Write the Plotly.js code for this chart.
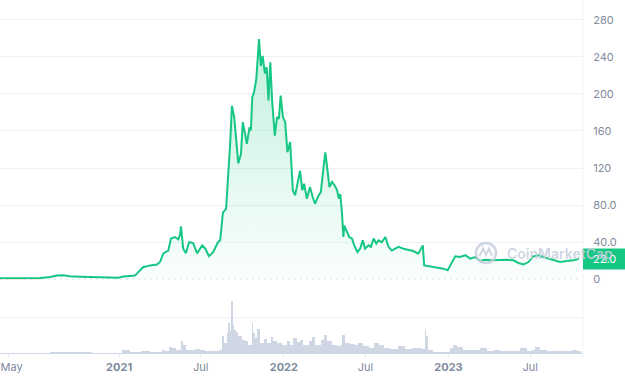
<!DOCTYPE html>
<html><head><meta charset="utf-8">
<script src="https://cdn.plot.ly/plotly-3.0.1.min.js"></script>
<style>html,body{margin:0;padding:0;background:#fff;}#chart{width:625px;height:380px;}</style>
</head><body><div id="chart"></div>
<script>
// ---- data ----
const priceDates = ['2020-04-12','2020-05-27','2020-07-10','2020-08-01','2020-08-17','2020-08-30','2020-09-14','2020-10-07','2020-11-09','2020-12-12','2020-12-30',
'2021-01-10','2021-01-25','2021-02-05','2021-02-14','2021-02-23','2021-03-11','2021-03-26','2021-04-02','2021-04-09','2021-04-20','2021-04-26','2021-05-05','2021-05-12','2021-05-16','2021-05-18','2021-05-23','2021-05-29','2021-06-05','2021-06-14','2021-06-23','2021-07-04','2021-07-11','2021-07-19','2021-07-28','2021-08-04','2021-08-08','2021-08-13','2021-08-19','2021-08-26','2021-08-31','2021-09-04','2021-09-08','2021-09-13','2021-09-17','2021-09-22','2021-09-28','2021-10-02','2021-10-07','2021-10-11','2021-10-17','2021-10-20','2021-10-23','2021-10-27','2021-11-01','2021-11-07','2021-11-11','2021-11-15','2021-11-20','2021-11-24','2021-11-28','2021-12-02','2021-12-06','2021-12-12','2021-12-17','2021-12-21','2021-12-25','2021-12-30',
'2022-01-04','2022-01-09','2022-01-15','2022-01-21','2022-01-26','2022-01-31','2022-02-06','2022-02-11','2022-02-15','2022-02-21','2022-02-28','2022-03-06','2022-03-11','2022-03-19','2022-03-24','2022-03-30','2022-04-03','2022-04-08','2022-04-12','2022-04-18','2022-04-24','2022-04-29','2022-05-03','2022-05-06','2022-05-10','2022-05-13','2022-05-15','2022-05-21','2022-05-26','2022-06-01','2022-06-06','2022-06-13','2022-06-19','2022-06-25','2022-06-30','2022-07-08','2022-07-13','2022-07-19','2022-07-25','2022-07-30','2022-08-06','2022-08-14','2022-08-21','2022-08-28','2022-09-05','2022-09-12','2022-09-23','2022-10-04','2022-10-15','2022-10-26','2022-11-05','2022-11-08','2022-11-21','2022-12-06','2022-12-21','2022-12-30',
'2023-01-08','2023-01-16','2023-01-27','2023-02-07','2023-02-18','2023-03-01','2023-03-12','2023-03-23','2023-04-07','2023-04-25','2023-05-10','2023-05-25','2023-06-05','2023-06-16','2023-06-27','2023-07-08','2023-07-19','2023-07-30','2023-08-10','2023-08-22','2023-09-05','2023-09-20','2023-10-05','2023-10-17'];
const priceValues = [1.0,1.3,1.5,2.5,4.0,4.3,3.2,2.8,2.2,2.0,1.8,
3.0,3.6,4.0,8.5,13,15,16,19,28,31,44,45.6,43,48,57,33,28,40,39,28,36.6,33,25,29,35,40,42,72,76,110,146,187,175,153,125,135,169.5,157,146,164,160.5,196,202,216,259,230,241,222,229,193,234,193,155,175,173,198,175,
169.5,137,148,96,90.5,101,117,96,103,87,99.5,88.7,81.5,90.5,94,121,137,117,99.5,105,101,96,87,92,71,45.6,58,51,45.6,44,36.6,29.4,33,42,33,36.6,35,44,38.5,42,40,45.6,35,31,33,35,33,32,30.5,27.7,36.6,15,14,13.3,11.5,9.7,
17,24.8,24,26,22.3,24,19.7,21,20.5,21,21,20.5,17.6,16,18.6,24.8,26,24,22.3,20.5,18.6,19.7,20.5,22.0];
const belowDates = ['2020-04-12','2020-07-12'];
const belowValues = [0.3,0.3];
const volumeDates = ['2020-04-12','2020-06-01','2020-08-01','2020-09-01','2020-11-01','2020-12-15','2021-01-07','2021-01-25','2021-02-18','2021-03-11','2021-03-26','2021-04-05','2021-04-13','2021-04-21','2021-04-28','2021-05-07','2021-05-17','2021-05-22','2021-05-29','2021-06-07','2021-06-18','2021-06-29','2021-07-11','2021-07-21','2021-08-01','2021-08-10','2021-08-16','2021-08-21','2021-08-27','2021-08-31','2021-09-04','2021-09-06','2021-09-10','2021-09-13','2021-09-18','2021-09-22','2021-09-30','2021-10-07','2021-10-14','2021-10-22','2021-10-25','2021-10-29','2021-11-03','2021-11-09','2021-11-18','2021-11-24','2021-12-03','2021-12-09','2021-12-16','2021-12-27',
'2022-01-08','2022-01-15','2022-01-22','2022-01-30','2022-02-06','2022-02-13','2022-02-25','2022-03-04','2022-03-11','2022-03-24','2022-03-31','2022-04-06','2022-04-17','2022-04-29','2022-05-06','2022-05-11','2022-05-17','2022-05-28','2022-06-08','2022-06-15','2022-06-26','2022-07-08','2022-07-19','2022-07-30','2022-08-10','2022-08-25','2022-09-12','2022-09-27','2022-10-12','2022-10-26','2022-11-04','2022-11-09','2022-11-11','2022-11-17','2022-11-28','2022-12-13','2022-12-29',
'2023-01-05','2023-01-12','2023-01-19','2023-02-03','2023-02-18','2023-03-01','2023-03-12','2023-03-27','2023-04-11','2023-04-25','2023-05-18','2023-06-09','2023-06-24','2023-07-05','2023-07-12','2023-07-23','2023-08-07','2023-08-22','2023-09-05','2023-09-20','2023-10-01','2023-10-12','2023-10-17'];
const volumeValues = [0.12,0.12,0.15,0.18,0.12,0.12,0.75,0.2,0.58,0.33,0.33,0.83,0.5,1.5,1.25,0.83,2.9,2.1,0.75,0.63,0.88,0.63,0.5,0.45,0.55,0.63,4.2,2.5,5.0,7.5,5.4,13.1,7.0,5.75,5.2,4.2,3.3,2.9,2.1,7.5,5.0,3.75,6.0,2.5,3.5,2.5,3.9,2.9,2.5,2.1,
2.9,2.1,3.75,2.7,3.3,2.1,2.9,4.0,2.1,3.3,4.6,2.9,2.1,1.7,2.1,4.6,2.5,2.3,2.1,2.5,1.7,1.25,2.5,2.1,1.25,1.0,1.7,1.0,1.2,1.2,1.0,6.0,4.2,0.7,0.33,0.33,0.33,
1.25,2.1,1.5,0.83,0.83,0.7,1.2,0.43,0.83,0.58,0.43,1.2,0.58,0.83,1.5,0.83,0.58,0.5,0.43,0.5,0.75,0.5,0.5];
const priceTickVals = [0,40,80,120,160,200,240,280];
const priceTickText = ['0','40.0','80.0','120','160','200','240','280'];
const dateTickVals = ['2020-05-01','2021-01-01','2021-07-01','2022-01-01','2022-07-01','2023-01-01','2023-07-01'];
const dateTickText = ['\u00a0\u00a0May','<b>2021</b>','Jul','<b>2022</b>','Jul','<b>2023</b>','Jul'];
const xRange = ['2020-04-12','2023-10-26'];
const watermarkText = 'CoinMarketCap';

// ---- layout geometry ----
const W = 625, H = 380, mL = 0, mR = 42, mT = 0, mB = 27;
const plotW = W - mL - mR, plotH = H - mT - mB;
const px = x => (x - mL) / plotW;
const py = y => (plotH - (y - mT)) / plotH;

const green = '#16c784';
const fontFamily = 'Inter, "Noto Sans", sans-serif';
const axisFont = {family: fontFamily, size: 11, color: '#808a9d'};

// volume bar widths from consecutive dates
const DAY = 86400000;
const volWidths = volumeDates.map((d, i) => {
  const t0 = Date.parse(d);
  const t1 = i < volumeDates.length - 1 ? Date.parse(volumeDates[i + 1]) : t0 + 5 * DAY;
  return t1 - t0;
});

const traces = [
  {
    type: 'bar', x: volumeDates, y: volumeValues, width: volWidths, offset: 0,
    xaxis: 'x', yaxis: 'y2', marker: {color: '#cfd6e4', line: {width: 0}},
    hoverinfo: 'skip', showlegend: false
  },
  {
    type: 'scatter', mode: 'lines', x: belowDates, y: belowValues,
    xaxis: 'x', yaxis: 'y', line: {color: 'rgba(234,57,67,0.55)', width: 1.5},
    hoverinfo: 'skip', showlegend: false
  },
  {
    type: 'scatter', mode: 'lines', x: priceDates, y: priceValues,
    xaxis: 'x', yaxis: 'y', line: {color: green, width: 2},
    fill: 'tozeroy', fillcolor: 'rgba(22,199,132,0.1)',
    fillgradient: {type: 'vertical', start: 0, stop: Math.max(...priceValues),
      colorscale: [[0, 'rgba(22,199,132,0.02)'], [1, 'rgba(22,199,132,0.26)']]},
    hoverinfo: 'skip', showlegend: false
  }
];

const lastPrice = priceValues[priceValues.length - 1];
const wmColor = 'rgba(198,206,222,0.85)';

// logo path in pixel coords -> paper
const logoPts = [[479.5,256],[483,248.5],[486,255],[489,248.5],[492,256]];
const logoPath = 'M' + logoPts.map(p => px(p[0]) + ',' + py(p[1])).join(' L');

const layout = {
  width: W, height: H,
  margin: {l: mL, r: mR, t: mT, b: mB, pad: 0},
  paper_bgcolor: '#ffffff', plot_bgcolor: '#ffffff',
  showlegend: false, bargap: 0,
  xaxis: {
    type: 'date', range: xRange, anchor: 'y2', showgrid: false, zeroline: false,
    tickvals: dateTickVals, ticktext: dateTickText, tickangle: 0,
    ticklabeloverflow: 'allow',
    ticks: 'outside', ticklen: 4, tickcolor: '#e6e9ef', tickwidth: 1,
    tickfont: axisFont, showline: true, linecolor: '#cfd6e4', linewidth: 1,
    fixedrange: true
  },
  yaxis: {
    domain: [py(279.3), 1], range: [0, 279.3 / (37.09 / 40)], side: 'right', anchor: 'x',
    tickvals: priceTickVals, ticktext: priceTickText,
    ticks: 'outside', ticklen: 7, tickcolor: 'rgba(0,0,0,0)',
    tickfont: axisFont, showgrid: true, gridcolor: '#eff2f5', gridwidth: 1,
    zeroline: false, showline: false, fixedrange: true
  },
  yaxis2: {
    domain: [0, py(290)], range: [0, 15.75], side: 'right', anchor: 'x',
    tickvals: [9], showticklabels: false, ticks: '',
    showgrid: true, gridcolor: '#eff2f5', zeroline: false, showline: false, fixedrange: true
  },
  shapes: [
    {type: 'line', xref: 'paper', yref: 'y', x0: 0, x1: 0.995, y0: 0, y1: 0,
     line: {color: '#a6b0c3', width: 1, dash: '2px,4px'}, layer: 'below'},
    {type: 'line', xref: 'paper', yref: 'paper', x0: 1, x1: 1, y0: py(358), y1: 1,
     line: {color: '#eff2f5', width: 1}, layer: 'above'},
    // current-price tag
    {type: 'rect', xref: 'paper', x0: 1, x1: px(W + 2), yref: 'y', ysizemode: 'pixel',
     yanchor: lastPrice, y0: -10.5, y1: 10.5, fillcolor: green, line: {width: 0}, layer: 'above'},
    {type: 'circle', xref: 'paper', yref: 'paper', x0: px(476), x1: px(496), y0: py(263), y1: py(243),
     line: {color: wmColor, width: 2.5}, layer: 'above'},
    {type: 'path', xref: 'paper', yref: 'paper', path: logoPath,
     line: {color: wmColor, width: 2}, layer: 'above'}
  ],
  annotations: [
    {xref: 'paper', x: px(604), xanchor: 'center', yref: 'y', y: lastPrice, yanchor: 'middle',
     text: lastPrice.toFixed(1), showarrow: false,
     font: {family: fontFamily, size: 11, color: '#ffffff'}},
    {xref: 'paper', x: px(505), xanchor: 'left', yref: 'paper', y: py(253), yanchor: 'middle',
     text: watermarkText, showarrow: false,
     font: {family: fontFamily, size: 14, weight: 600, color: wmColor}}
  ]
};

Plotly.newPlot('chart', traces, layout, {displayModeBar: false, staticPlot: true});
</script>
</body></html>
